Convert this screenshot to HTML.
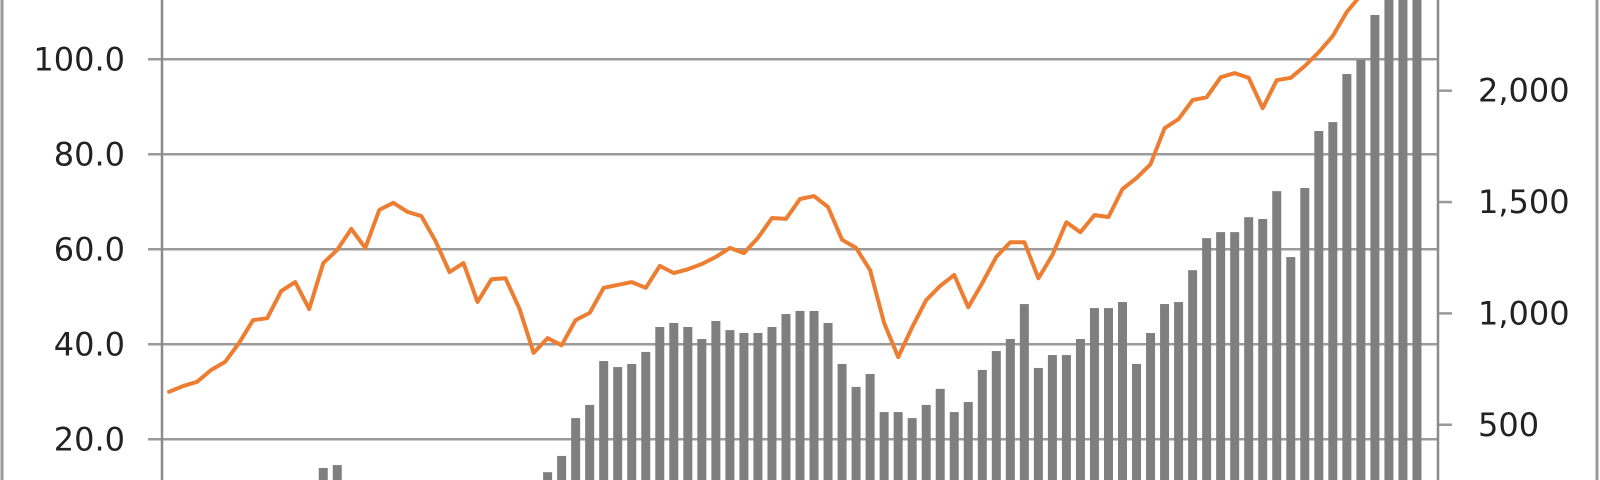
<!DOCTYPE html>
<html><head><meta charset="utf-8"><style>
html,body{margin:0;padding:0;background:#fff;width:1600px;height:480px;overflow:hidden;}
svg{display:block;}
text{font-family:"DejaVu Sans","Liberation Sans",sans-serif;font-size:32px;fill:#222;}
</style></head><body>
<svg id="chart" width="1600" height="480" viewBox="0 0 1600 480" xmlns="http://www.w3.org/2000/svg" overflow="hidden">
<rect x="0" y="0" width="1600" height="480" fill="#fff"/>
<line x1="2" y1="0" x2="2" y2="480" stroke="#999" stroke-width="3"/>
<line x1="1597" y1="0" x2="1597" y2="480" stroke="#999" stroke-width="3"/>
<g id="grid"></g>
<g id="bars"></g>
<g id="line"></g>
<g id="axes"></g>
</svg>
<script>
const leftTicks = [20, 40, 60, 80, 100];
const leftTickLabels = ["20.0", "40.0", "60.0", "80.0", "100.0"];
const rightTicks = [500, 1000, 1500, 2000];
const rightTickLabels = ["500", "1,000", "1,500", "2,000"];
const barValues = [0,0,0,0,0,0,0,0,0,0,0,306,319,0,0,0,0,0,0,0,0,0,0,0,0,0,0,287,360,530,589,786,759,773,827,939,957,939,885,966,925,912,912,939,997,1011,1011,957,773,670,728,557,557,530,589,661,557,602,746,831,885,1042,755,813,813,885,1024,1024,1051,773,912,1042,1051,1194,1338,1365,1365,1432,1424,1549,1253,1563,1819,1859,2075,2138,2340,2500,2550,2600,null];
const lineValues = [30.0,31.2,32.1,34.6,36.3,40.3,45.1,45.5,51.2,53.1,47.4,57.1,59.9,64.3,60.3,68.3,69.8,67.9,67.0,61.8,55.2,57.1,48.9,53.7,53.9,47.4,38.2,41.3,39.8,45.1,46.6,51.9,52.5,53.1,51.9,56.5,55.0,55.8,56.9,58.4,60.3,59.2,62.4,66.6,66.4,70.6,71.2,68.9,62.0,60.3,55.6,44.5,37.3,43.6,49.3,52.3,54.6,47.8,52.9,58.4,61.5,61.5,53.9,58.8,65.7,63.6,67.2,66.8,72.7,75.0,77.9,85.5,87.4,91.4,92.0,96.2,97.1,96.1,89.7,95.6,96.1,98.6,101.5,104.9,110.0,113.5,116,118,120,122,124];

const NS="http://www.w3.org/2000/svg";
const X0=162, X1=1438, N=lineValues.length, step=(X1-X0)/N;
const xC=i=>X0+(i+0.5)*step;
const yL=v=>59.3+(100-v)*4.75;
const yR=v=>90.7+(2000-v)*0.2227;
function mk(tag,attrs,parent){const e=document.createElementNS(NS,tag);for(const k in attrs)e.setAttribute(k,attrs[k]);parent.appendChild(e);return e;}
const grid=document.getElementById('grid'),bars=document.getElementById('bars'),line=document.getElementById('line'),axes=document.getElementById('axes');
leftTicks.forEach((t,i)=>{
  const y=yL(t);
  const g=mk('line',{x1:148,y1:y,x2:X1,y2:y,stroke:'#9a9a9a','stroke-width':2.5},grid);
  
  
  const lb=mk('text',{x:125,y:y+11,'text-anchor':'end'},axes);
  lb.textContent=leftTickLabels[i];
  
  
});
rightTicks.forEach((t,i)=>{
  const y=yR(t);
  const tk=mk('line',{x1:X1,y1:y,x2:1452,y2:y,stroke:'#9a9a9a','stroke-width':2.5},axes);
  
  
  const lb=mk('text',{x:1478,y:y+11,'text-anchor':'start'},axes);
  lb.textContent=rightTickLabels[i];
  
  
});
barValues.forEach((v,i)=>{
  if(v===null||v<=0)return;
  const y=Math.max(yR(v),0);
  const r=mk('rect',{x:xC(i)-4.5,y:y,width:9,height:Math.max(0,480-y),fill:'#7f7f7f'},bars);
  
  
});
const pts=lineValues.map((v,i)=>xC(i).toFixed(1)+','+yL(v).toFixed(1)).join(' ');
const pl=mk('polyline',{points:pts,fill:'none',stroke:'#ED7D31','stroke-width':4,'stroke-linejoin':'round','stroke-linecap':'round'},line);


const la=mk('line',{x1:X0,y1:0,x2:X0,y2:480,stroke:'#8a8a8a','stroke-width':2.5},axes);


const ra=mk('line',{x1:X1,y1:0,x2:X1,y2:480,stroke:'#8a8a8a','stroke-width':2.5},axes);


</script>
</body></html>
